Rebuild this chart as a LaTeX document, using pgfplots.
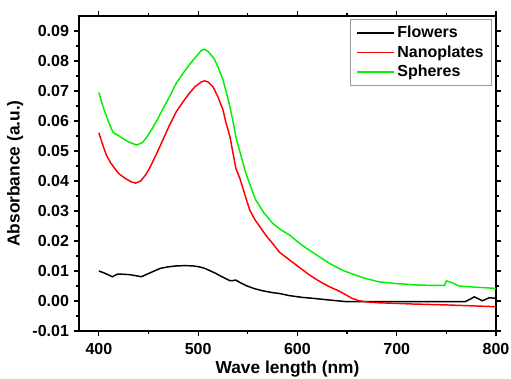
\documentclass[border=0pt]{standalone}
\usepackage{pgfplots}
\pgfplotsset{compat=1.18}
\usepackage{fontspec}
\setmainfont{Liberation Sans}
\begin{document}
\begin{tikzpicture}
\begin{axis}[
  name=ax,
  scale only axis,
  width=312.75pt, height=236.25pt,
  xmin=380, xmax=800, ymin=-0.01, ymax=0.095,
  xtick={400,500,600,700,800},
  minor xtick={450,550,650,750},
  ytick={-0.01,0,0.01,0.02,0.03,0.04,0.05,0.06,0.07,0.08,0.09},
  minor ytick={-0.005,0.005,0.015,0.025,0.035,0.045,0.055,0.065,0.075,0.085},
  scaled y ticks=false,
  tick align=outside,
  major tick length=4pt, minor tick length=2pt,
  axis line style={line width=1.3pt},
  every tick/.style={line width=0.9pt, black},
  yticklabel style={/pgf/number format/fixed, /pgf/number format/fixed zerofill, /pgf/number format/precision=2},
  /pgf/number format/assume math mode=true,
  ticklabel style={font=\fontsize{12}{14}\selectfont\bfseries},
  xticklabel style={yshift=-1.5pt},
  label style={font=\fontsize{13}{15}\selectfont\bfseries},
  xlabel={Wave length (nm)},
  ylabel={Absorbance (a.u.)},
  xlabel style={yshift=2pt},
  legend style={at={(1,1)}, anchor=north east, xshift=-3pt, yshift=-2.25pt,
    draw=gray!80, line width=0.6pt, font=\fontsize{12}{14}\selectfont\bfseries,
    row sep=0.5pt, inner xsep=4pt, inner ysep=3pt},
  legend cell align=left,
  legend image code/.code={\draw[#1, line width=1.1pt] (0pt,0pt) -- (28pt,0pt);},
  every axis plot/.append style={line width=1.1pt},
]
\addplot[black] coordinates {
(400,0.010)(405,0.0094)(413.5,0.0081)(419,0.009)(431,0.0088)(442.7,0.0081)(449,0.009)(455,0.0099)(462,0.0109)(470,0.0114)(478,0.0117)(487,0.0118)(494.7,0.0117)(501,0.0114)(506.5,0.0109)(516.6,0.0094)(524,0.0081)(531.7,0.0068)(535,0.0068)(537.8,0.007)(542,0.0062)(548.5,0.0051)(556,0.0042)(565,0.0034)(575,0.0028)(582,0.0025)(592,0.0018)(605,0.0012)(615.6,0.0009)(630,0.0004)(649,-0.0002)(700,-0.0002)(740,-0.0002)(769,-0.0002)(774,0.0006)(778,0.0014)(782,0.0008)(786,0.0001)(790,0.0006)(793,0.0011)(800,0.0009)
};
\addlegendentry{Flowers}
\addplot[red] coordinates {
(400,0.0561)(404,0.052)(407.5,0.0487)(412,0.046)(416,0.0442)(420,0.0425)(426,0.041)(432,0.0398)(437,0.0393)(442,0.040)(447,0.042)(451,0.0442)(458,0.049)(464.5,0.0537)(471,0.0585)(478,0.0631)(485,0.0665)(491,0.0692)(497,0.0715)(503,0.0730)(506.5,0.0734)(510,0.0730)(515,0.0714)(520,0.068)(525,0.0637)(528,0.0595)(532,0.0548)(535,0.0495)(538,0.0442)(542,0.0409)(547,0.0355)(552,0.0303)(557,0.0272)(562,0.0248)(568,0.022)(575,0.0192)(582,0.0162)(592,0.0137)(602,0.0112)(612,0.0087)(622,0.0066)(632,0.0048)(642,0.0033)(655,0.0009)(662,0.0001)(672,-0.0004)(683,-0.0006)(700,-0.0008)(716,-0.001)(750,-0.0013)(775,-0.0016)(800,-0.0019)
};
\addlegendentry{Nanoplates}
\addplot[color={rgb,255:red,0;green,240;blue,0}] coordinates {
(400,0.0695)(403,0.066)(406,0.0631)(410,0.0595)(414,0.0564)(416,0.0558)(418,0.0555)(424,0.0542)(430,0.053)(438,0.0520)(444,0.0528)(449,0.055)(454,0.0576)(459,0.0605)(464,0.0637)(471,0.068)(478,0.0726)(485,0.0760)(491,0.0787)(498,0.0815)(503,0.0835)(506,0.0839)(510,0.0832)(513,0.082)(516,0.0809)(520,0.078)(525,0.0737)(528,0.070)(532,0.0648)(535,0.060)(538,0.0548)(542,0.0498)(548,0.0426)(553,0.038)(558,0.0337)(566,0.0295)(575,0.0259)(583,0.0238)(592,0.022)(600,0.0198)(609,0.0176)(620,0.0152)(632,0.0126)(645,0.0103)(658,0.0087)(670,0.0074)(682,0.0064)(700,0.0058)(723,0.0053)(740,0.0052)(748,0.0052)(750,0.0067)(755,0.0062)(763,0.0050)(780,0.0046)(800,0.0042)
};
\addlegendentry{Spheres}
\end{axis}
\pgfresetboundingbox
\path[use as bounding box] ([xshift=-59.25pt,yshift=-35.25pt]ax.south west) rectangle ([xshift=11.25pt,yshift=12pt]ax.north east);
\end{tikzpicture}
\end{document}
